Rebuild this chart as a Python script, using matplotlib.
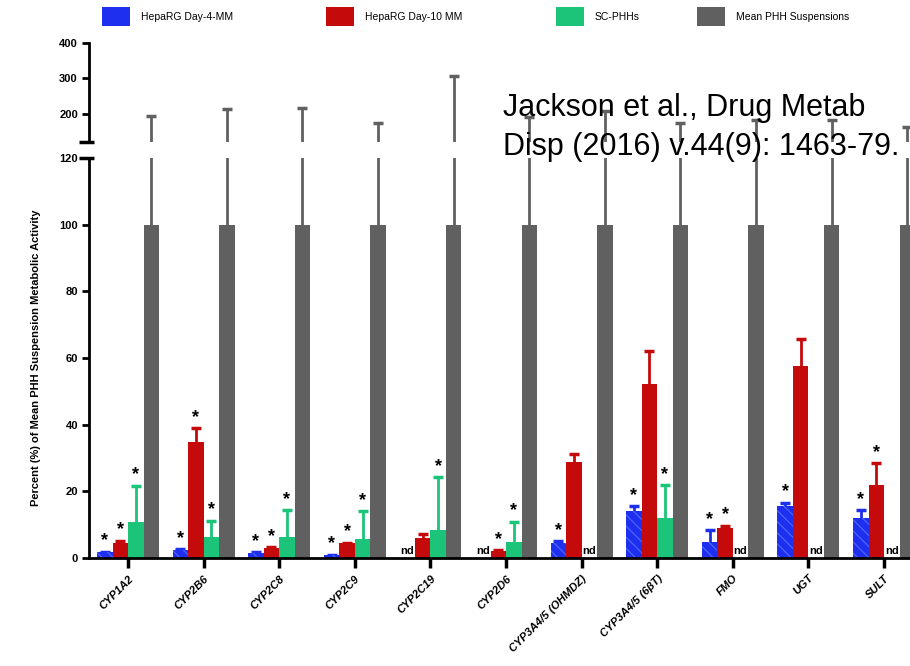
import numpy as np
import matplotlib
matplotlib.use('Agg')
import matplotlib.pyplot as plt
from matplotlib.patches import Rectangle

plt.rcParams['font.family'] = ['Liberation Sans', 'DejaVu Sans']
plt.rcParams['hatch.linewidth'] = 0.8

CATS = ['CYP1A2', 'CYP2B6', 'CYP2C8', 'CYP2C9', 'CYP2C19', 'CYP2D6',
        'CYP3A4/5 (OHMDZ)', 'CYP3A4/5 (6βT)', 'FMO', 'UGT', 'SULT']
NAMES = ['HepaRG Day-4-MM', 'HepaRG Day-10 MM', 'SC-PHHs', 'Mean PHH Suspensions']
nan = np.nan

# bar values (percent of mean PHH suspension activity), nan = nd
day4 = [1.7, 2.4, 1.6, 0.9, nan, nan, 4.6, 14.1, 4.9, 15.7, 12.1]
day10 = [4.6, 34.9, 3.0, 4.4, 5.9, 2.1, 28.9, 52.1, 9.1, 57.6, 21.9]
scphh = [10.9, 6.3, 6.2, 5.8, 8.4, 4.9, nan, 11.9, nan, nan, nan]
phh = [100] * 11

# top of error bars
day4_err = [1.9, 2.6, 1.8, 1.0, nan, nan, 5.1, 15.6, 8.4, 16.6, 14.4]
day10_err = [5.2, 38.9, 3.2, 4.6, 7.1, 2.3, 31.1, 62.2, 9.7, 65.6, 28.4]
scphh_err = [21.7, 11.2, 14.4, 14.0, 24.2, 10.9, nan, 21.9, nan, nan, nan]
phh_err = [194, 212, 217, 172, 307, 189, 207, 172, 182, 183, 163]

# significance asterisks
day4_sig = [1, 1, 1, 1, 0, 0, 1, 1, 1, 1, 1]
day10_sig = [1, 1, 1, 1, 0, 1, 0, 0, 1, 0, 1]
scphh_sig = [1, 1, 1, 1, 1, 1, 0, 1, 0, 0, 0]
phh_sig = [0] * 11

COLORS = ['#1f2ff0', '#c40a0a', '#1cc47a', '#606060']

series = [(day4, day4_err, day4_sig), (day10, day10_err, day10_sig),
          (scphh, scphh_err, scphh_sig), (phh, phh_err, phh_sig)]

W, H = 910, 666
fig = plt.figure(figsize=(W / 100, H / 100), dpi=100)
x0 = 89
ax = fig.add_axes([x0 / W, (H - 558) / H, (W - x0) / W, 400 / H])
axt = fig.add_axes([x0 / W, (H - 141.7) / H, (W - x0) / W, 98.4 / H])

idx = np.arange(len(CATS))
bw = 0.205
offs = [-1.5 * bw, -0.5 * bw, 0.5 * bw, 1.5 * bw]

for k, (vals, tops, sig) in enumerate(series):
  v = np.array(vals, dtype=float)
  t = np.array(tops, dtype=float)
  xs = idx + offs[k]
  hatch = '\\\\\\' if k == 0 else None
  for a in (ax, axt):
    a.bar(xs, np.nan_to_num(v), bw, color=COLORS[k], linewidth=0,
          edgecolor='#4d6bff' if k == 0 else COLORS[k], hatch=hatch, zorder=2)
    # upper error only: stem plus a cap at the top
    a.vlines(xs, v, t, color=COLORS[k], lw=2, zorder=1)
    a.plot(xs, t, ls='none', marker='_', ms=6.5, mew=2.5, color=COLORS[k], zorder=1)
  for i in range(len(CATS)):
    if np.isnan(v[i]):
      ax.text(xs[i], 0.6, 'nd', ha='center', va='bottom', fontsize=8,
              fontweight='bold')
    elif sig[i]:
      ax.annotate('*', (xs[i], t[i]), xytext=(0, 1.5), textcoords='offset points',
                  ha='center', va='bottom', fontsize=13, fontweight='bold')

xlim = (-0.516, -0.516 + (W - x0) / 75.6)
ax.set_xlim(*xlim)
axt.set_xlim(*xlim)
ax.set_ylim(0, 120)
axt.set_ylim(120, 400)

ax.set_yticks([0, 20, 40, 60, 80, 100, 120])
axt.set_yticks([200, 300, 400])
ax.set_xticks(idx)
ax.set_xticklabels(CATS, rotation=45, ha='right', rotation_mode='anchor',
                   fontsize=8, fontweight='bold', style='italic')

for a in (ax, axt):
  for s in ('top', 'right'):
    a.spines[s].set_visible(False)
  a.spines['left'].set_linewidth(2)
  a.tick_params(axis='y', length=5, width=2, labelsize=8, pad=3)
  for lab in a.get_yticklabels():
    lab.set_fontweight('bold')
ax.spines['bottom'].set_linewidth(2)
ax.tick_params(axis='x', length=7, width=2.5, pad=4)
axt.spines['bottom'].set_visible(False)
axt.set_xticks([])

# axis break marks
ax.plot([-0.012, 0.006], [1, 1], transform=ax.transAxes, color='black',
        lw=2.5, clip_on=False, solid_capstyle='butt')
axt.plot([-0.012, 0.006], [0, 0], transform=axt.transAxes, color='black',
         lw=2.5, clip_on=False, solid_capstyle='butt')

fig.text(36 / W, 1 - 358 / H, 'Percent (%) of Mean PHH Suspension Metabolic Activity',
         rotation=90, ha='center', va='center', fontsize=8, fontweight='bold')

# legend
leg_x = [102, 326, 556, 697]
for lx, name, c in zip(leg_x, NAMES, COLORS):
  fig.patches.append(Rectangle((lx / W, 1 - 26 / H), 28 / W, 19 / H,
                               transform=fig.transFigure, color=c, linewidth=0))
  fig.text((lx + 39) / W, 1 - 17 / H, name, ha='left', va='center', fontsize=7.5)

fig.text(503 / W, 1 - 155 / H, 'Jackson et al., Drug Metab\nDisp (2016) v.44(9): 1463-79.',
         ha='left', va='baseline', fontsize=22, linespacing=1.38)

fig.savefig('out.png', dpi=100)
